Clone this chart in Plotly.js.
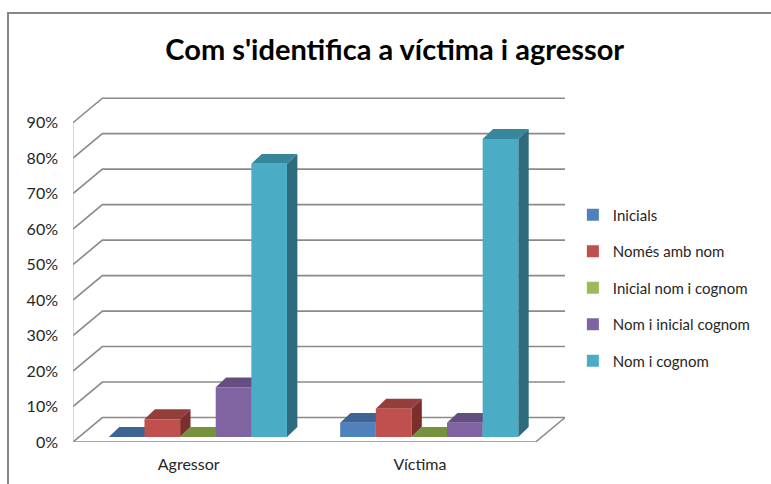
<!DOCTYPE html>
<html>
<head>
<meta charset="utf-8">
<script src="https://cdn.plot.ly/plotly-3.0.1.min.js"></script>
<style>
  html, body { margin: 0; padding: 0; background: #ffffff; }
  #wrap { position: relative; width: 771px; height: 484px; overflow: hidden; }
  #chart { width: 771px; height: 484px; }
  #frame { position: absolute; left: 7px; top: 12px; width: 800px; height: 520px;
           border-left: 2px solid #878787; border-top: 2px solid #878787; pointer-events: none; }
</style>
</head>
<body>
<div id="wrap"><div id="chart"></div><div id="frame"></div></div>
<script>
// ---- data ----
const categories = ['Agressor', 'Víctima'];
const seriesNames = ['Inicials', 'Només amb nom', 'Inicial nom i cognom', 'Nom i inicial cognom', 'Nom i cognom'];
const inicials = [0, 4];
const nomesAmbNom = [5, 8];
const inicialNomCognom = [0, 0];
const nomInicialCognom = [14, 4];
const nomCognom = [77, 84];
const yTickValues = [0, 10, 20, 30, 40, 50, 60, 70, 80, 90];
const yTickLabels = ['0%', '10%', '20%', '30%', '40%', '50%', '60%', '70%', '80%', '90%'];

// ---- styles ----
const frontColors = ['#4F81BD', '#C0504D', '#9BBB59', '#8064A2', '#4BACC6'];
const topColors   = ['#3C6494', '#953D3B', '#76923C', '#644E80', '#37869B'];
const sideColors  = ['#2F4E75', '#7A2F2D', '#5F7530', '#4F3E66', '#2E6B7C'];
const seriesValues = [inicials, nomesAmbNom, inicialNomCognom, nomInicialCognom, nomCognom];

const BARGAP = 0.23;
const DDX = 0.127, DDY = 6.9;      // floor depth (oblique projection)
const SX = 0.04, BASE = 1.4;       // bar front-face offset inside the floor
const BDX = 0.045, BDY = 2.8;      // bar depth
const XMIN = -0.5, XMAX = 1.5 + DDX;
const catIdx = categories.map((c, i) => i);

const traces = seriesNames.map((name, s) => ({
  type: 'bar',
  name: name,
  x: catIdx.map(i => i + SX),
  y: seriesValues[s],
  base: catIdx.map(() => BASE),
  marker: { color: frontColors[s], line: { width: 0 } },
  legendgroup: 'g' + s,
  hoverinfo: 'skip'
}));

const shapes = [];
const gridColor = '#8a8a8a';
// back-wall gridlines with diagonal side-wall segment
yTickValues.forEach(v => {
  shapes.push({ type: 'path', xref: 'x', yref: 'y', layer: 'below',
    path: `M${XMIN},${v} L${XMIN + DDX},${v + DDY} L${XMAX},${v + DDY}`,
    line: { color: gridColor, width: 1.6 } });
});
// left wall front edge
shapes.push({ type: 'line', xref: 'x', yref: 'y', layer: 'below',
  x0: XMIN, x1: XMIN, y0: 0, y1: yTickValues[yTickValues.length - 1],
  line: { color: '#b0b0b0', width: 1 } });
// floor front edge and right diagonal
shapes.push({ type: 'path', xref: 'x', yref: 'y', layer: 'below',
  path: `M${XMIN},0 L${1.5},0 L${XMAX},${DDY}`,
  line: { color: gridColor, width: 1.6 } });

// 3D faces of bars (top + side), computed from data
const nS = seriesNames.length;
const bw = (1 - BARGAP) / nS;
seriesValues.forEach((vals, s) => {
  vals.forEach((v, c) => {
    const xl = c + SX - (1 - BARGAP) / 2 + s * bw;
    const xr = xl + bw;
    const b = BASE, t = BASE + v;
    shapes.push({ type: 'path', xref: 'x', yref: 'y', layer: 'below',
      path: `M${xr},${b} L${xr},${t} L${xr + BDX},${t + BDY} L${xr + BDX},${b + BDY} Z`,
      fillcolor: sideColors[s], line: { width: 0 } });
    shapes.push({ type: 'path', xref: 'x', yref: 'y', layer: 'below',
      path: `M${xl},${t} L${xr},${t} L${xr + BDX},${t + BDY} L${xl + BDX},${t + BDY} Z`,
      fillcolor: topColors[s], line: { width: 0 } });
  });
});

const layout = {
  width: 771, height: 484,
  paper_bgcolor: '#ffffff', plot_bgcolor: 'rgba(0,0,0,0)',
  font: { family: 'Lato, "Liberation Sans", sans-serif', size: 16, color: '#262626' },
  title: { text: "Com s'identifica a víctima i agressor",
    font: { family: 'Lato, "Liberation Sans", sans-serif', size: 29, weight: 'bold', color: '#000000' },
    x: 0.512, xanchor: 'center', y: 0.897, yanchor: 'middle', yref: 'container' },
  margin: { l: 73, r: 206, t: 95, b: 42 },
  barmode: 'group', bargap: BARGAP, bargroupgap: 0,
  showlegend: true,
  legend: { x: 1.016, xanchor: 'left', y: 0.702, yanchor: 'top',
    font: { size: 15, color: '#262626' }, tracegroupgap: 14, bgcolor: 'rgba(0,0,0,0)' },
  xaxis: { type: 'linear', range: [XMIN, XMAX], tickvals: catIdx, ticktext: categories,
    showgrid: false, zeroline: false, showline: false, ticks: '', ticklabelstandoff: 11, fixedrange: true },
  yaxis: { range: [0, 97.8], tickvals: yTickValues, ticktext: yTickLabels,
    showgrid: false, zeroline: false, showline: false, ticks: '', ticklabelstandoff: 14, fixedrange: true },
  shapes: shapes
};

Plotly.newPlot('chart', traces, layout, { displayModeBar: false, staticPlot: true });
</script>
</body>
</html>
